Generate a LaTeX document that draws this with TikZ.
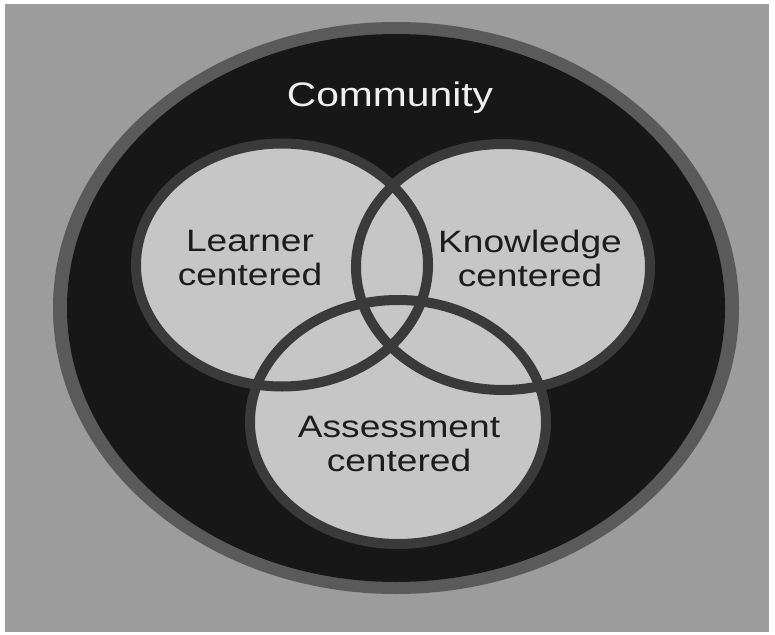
\documentclass[tikz,border=0pt]{standalone}
\usepackage{fontspec}
\setmainfont{Liberation Sans}
\usepackage{xcolor}
\definecolor{bggray}{HTML}{9C9C9C}
\definecolor{ringgray}{HTML}{5A5A5A}
\definecolor{nearblack}{HTML}{171717}
\definecolor{lightfill}{HTML}{C6C6C6}
\definecolor{edgegray}{HTML}{3A3A3A}
\definecolor{textdark}{HTML}{1C1C1C}

\begin{document}
\begin{tikzpicture}[x=0.75pt,y=0.75pt,yscale=-1,xscale=1,
  circlabel/.style={align=center,text=textdark,xscale=1.2,
    font=\fontsize{23.2}{25.5}\selectfont},
  commlabel/.style={text=white!94!black,xscale=1.2,
    font=\fontsize{25.5}{28}\selectfont}]
%set diagram size to 775 x 635
\path[fill=white] (0,0) rectangle (775,635);
%background
\fill[bggray] (5,4) rectangle (769,632);

%Shape: outer ring and community area
\fill[ringgray] (396,308) ellipse (343 and 286);
\fill[nearblack] (396,308) ellipse (329 and 274);

%Shape: three circles, fills first then edges
\fill[lightfill] (282,265) ellipse (146 and 121.5);
\fill[lightfill] (503,267) ellipse (147 and 123);
\fill[lightfill] (398,422) ellipse (148 and 122);
\draw[edgegray,line width=7.5] (282,265) ellipse (146 and 121.5);
\draw[edgegray,line width=7.5] (503,267) ellipse (147 and 123);
\draw[edgegray,line width=7.5] (398,422) ellipse (148 and 122);

% Text Node
\node[commlabel] (community) at (390,98) {Community};
% Text Node
\node[circlabel] (learner) at (250,258) {Learner\\centered};
% Text Node
\node[circlabel] (knowledge) at (530,258) {Knowledge\\centered};
% Text Node
\node[circlabel] (assessment) at (399,444) {Assessment\\centered};

\end{tikzpicture}
\end{document}
